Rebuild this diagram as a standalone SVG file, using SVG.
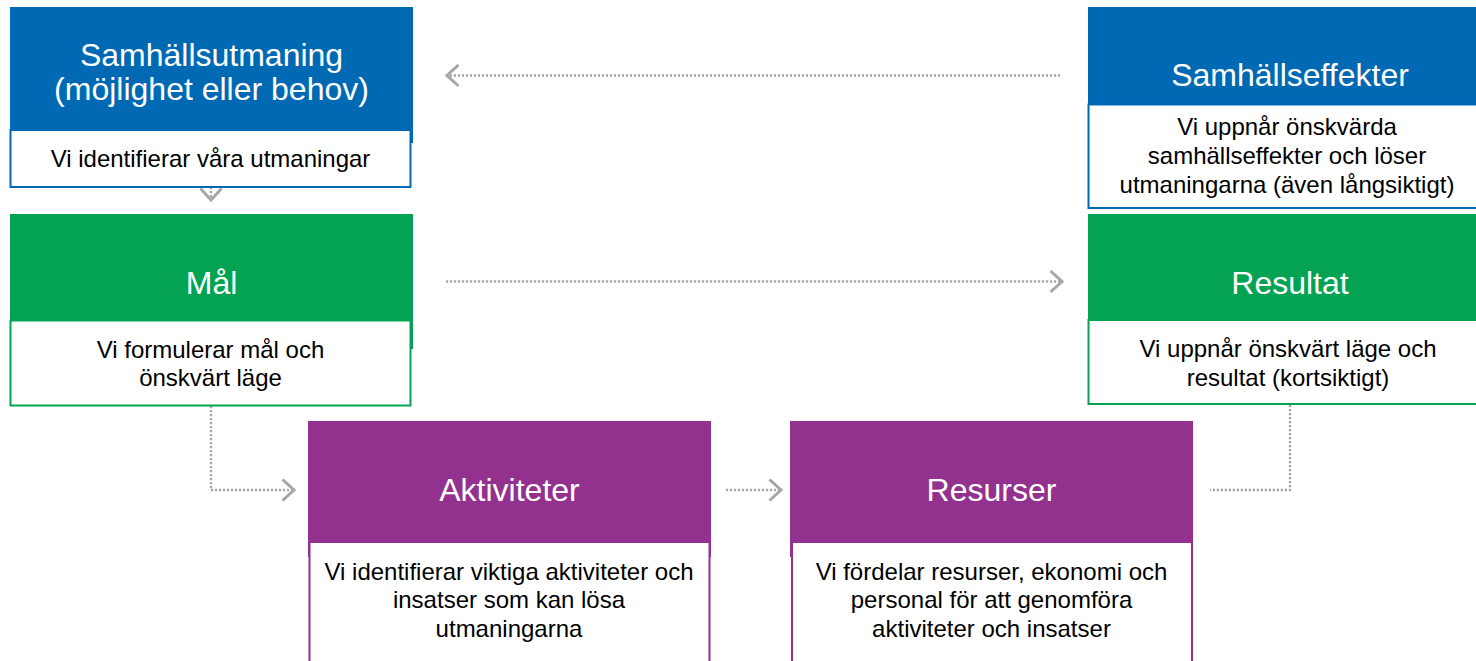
<svg xmlns="http://www.w3.org/2000/svg" width="1476" height="661" viewBox="0 0 1476 661">
<defs>
<style>
.blue{fill:#0069B4}
.green{fill:#04A353}
.purple{fill:#93318E}
.sub{fill:#fff;stroke-width:2}
.sb{stroke:#0069B4}
.sg{stroke:#04A353}
.sp{stroke:#93318E}
.h{font-family:"Liberation Sans",Arial,sans-serif;font-size:32px;fill:#fff;text-anchor:middle}
.t{font-family:"Liberation Sans",Arial,sans-serif;font-size:24px;fill:#000;text-anchor:middle}
.c{fill:none;stroke:#A6A6A6;stroke-width:2.3;stroke-dasharray:2.2 1.8}
</style>
<marker id="chev" markerUnits="userSpaceOnUse" viewBox="0 0 15 24" markerWidth="15" markerHeight="24" refX="13" refY="12" orient="auto">
<path d="M1.5,1.5 L13,12 L1.5,22.5" fill="none" stroke="#A6A6A6" stroke-width="3"/>
</marker>
</defs>
<rect width="1476" height="661" fill="#fff"/>
<g id="connectors">
<path class="c" d="M1060,75.5 H447" marker-end="url(#chev)"/>
<path class="c" d="M211,187 V200" marker-end="url(#chev)"/>
<path class="c" d="M446,281.5 H1062" marker-end="url(#chev)"/>
<path class="c" d="M211,406 V490 H294" marker-end="url(#chev)"/>
<path class="c" d="M726,490 H781" marker-end="url(#chev)"/>
<path class="c" d="M1290,405 V490 H1210"/>
</g>
<g id="samhallsutmaning">
<rect class="blue" x="10" y="7" width="403" height="136"/>
<text class="h" x="211.5" y="66">Samhällsutmaning</text>
<text class="h" x="211.5" y="100">(möjlighet eller behov)</text>
<rect class="sub sb" x="10.5" y="130" width="400" height="57"/>
<text class="t" x="210.5" y="167">Vi identifierar våra utmaningar</text>
</g>
<g id="mal">
<rect class="green" x="10" y="214" width="403" height="135"/>
<text class="h" x="211.5" y="294">Mål</text>
<rect class="sub sg" x="10.5" y="320.5" width="400" height="85"/>
<text class="t" x="210.5" y="358">Vi formulerar mål och</text>
<text class="t" x="210.5" y="386">önskvärt läge</text>
</g>
<g id="samhallseffekter">
<rect class="blue" x="1088" y="7" width="403" height="110"/>
<text class="h" x="1290" y="86">Samhällseffekter</text>
<rect class="sub sb" x="1088.5" y="104.5" width="400" height="103.5"/>
<text class="t" x="1287" y="135">Vi uppnår önskvärda</text>
<text class="t" x="1287" y="164">samhällseffekter och löser</text>
<text class="t" x="1287" y="193">utmaningarna (även långsiktigt)</text>
</g>
<g id="resultat">
<rect class="green" x="1088" y="214" width="403" height="130"/>
<text class="h" x="1290" y="294">Resultat</text>
<rect class="sub sg" x="1088.5" y="320" width="400" height="84"/>
<text class="t" x="1288" y="357">Vi uppnår önskvärt läge och</text>
<text class="t" x="1288" y="386">resultat (kortsiktigt)</text>
</g>
<g id="aktiviteter">
<rect class="purple" x="308" y="421" width="403" height="136"/>
<text class="h" x="509.5" y="501">Aktiviteter</text>
<rect class="sub sp" x="309.5" y="542" width="400" height="130"/>
<text class="t" x="509" y="580">Vi identifierar viktiga aktiviteter och</text>
<text class="t" x="509" y="608">insatser som kan lösa</text>
<text class="t" x="509" y="637">utmaningarna</text>
</g>
<g id="resurser">
<rect class="purple" x="790" y="421" width="403" height="136"/>
<text class="h" x="991.5" y="501">Resurser</text>
<rect class="sub sp" x="792" y="542" width="400" height="130"/>
<text class="t" x="991.5" y="580">Vi fördelar resurser, ekonomi och</text>
<text class="t" x="991.5" y="608">personal för att genomföra</text>
<text class="t" x="991.5" y="637">aktiviteter och insatser</text>
</g>
</svg>
